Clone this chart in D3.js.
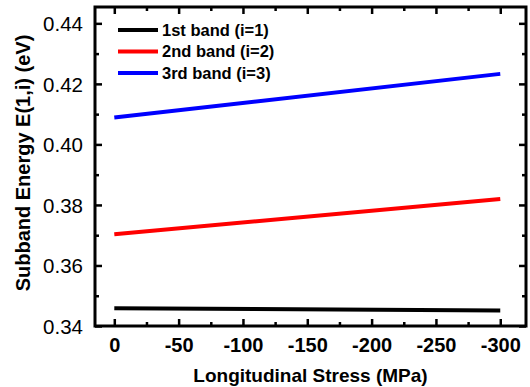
<html>
<head>
<meta charset="utf-8">
<script src="https://d3js.org/d3.v7.min.js"></script>
<style>
  body { margin: 0; background: #fff; }
  text { font-family: Arial, "Liberation Sans", sans-serif; }
</style>
</head>
<body>
<svg id="chart" width="530" height="387"></svg>
<script>
// Data
const stress = [0, -300];
const band1 = [0.3459, 0.3451];
const band2 = [0.3703, 0.3820];
const band3 = [0.4089, 0.4233];
const seriesNames = ["1st band (i=1)", "2nd band (i=2)", "3rd band (i=3)"];
const seriesColors = ["#000000", "#ff0000", "#0000ff"];
const xTicks = [0, -50, -100, -150, -200, -250, -300];
const xMinor = [-25, -75, -125, -175, -225, -275];
const yTicks = [0.34, 0.36, 0.38, 0.40, 0.42, 0.44];
const yMinor = [0.35, 0.37, 0.39, 0.41, 0.43];

// Plot frame
const pLeft = 95, pRight = 526, pTop = 7, pBottom = 326;

const svg = d3.select("#chart");

const x = d3.scaleLinear().domain([15, -320]).range([pLeft, pRight]);
const y = d3.scaleLinear().domain([0.34, 0.4454]).range([pBottom, pTop]);

// Bottom axis (ticks inward)
const bx = svg.append("g").attr("transform", "translate(0," + pBottom + ")");
bx.call(d3.axisBottom(x).tickValues(xTicks).tickSize(-7).tickPadding(12).tickFormat(d => String(d)));
bx.append("g").call(d3.axisBottom(x).tickValues(xMinor).tickSize(-4).tickFormat(""));

// Top axis
const tx = svg.append("g").attr("transform", "translate(0," + pTop + ")");
tx.call(d3.axisTop(x).tickValues(xTicks).tickSize(-7).tickFormat(""));
tx.append("g").call(d3.axisTop(x).tickValues(xMinor).tickSize(-4).tickFormat(""));

// Left axis
const ly = svg.append("g").attr("transform", "translate(" + pLeft + ",0)");
ly.call(d3.axisLeft(y).tickValues(yTicks).tickSize(-7).tickPadding(12).tickFormat(d => d.toFixed(2)));
ly.append("g").call(d3.axisLeft(y).tickValues(yMinor).tickSize(-4).tickFormat(""));

// Right axis
const ry = svg.append("g").attr("transform", "translate(" + pRight + ",0)");
ry.call(d3.axisRight(y).tickValues(yTicks).tickSize(-7).tickFormat(""));
ry.append("g").call(d3.axisRight(y).tickValues(yMinor).tickSize(-4).tickFormat(""));

svg.selectAll(".domain").remove();
svg.selectAll(".tick line").attr("stroke", "#000").attr("stroke-width", 2.5);

bx.selectAll(".tick text")
  .attr("font-size", 20).attr("font-weight", "bold").attr("fill", "#000")
  .attr("font-family", "Arial, 'Liberation Sans', sans-serif");
ly.selectAll(".tick text")
  .attr("font-size", 20.5).attr("fill", "#000").attr("dy", "0.36em")
  .attr("font-family", "Arial, 'Liberation Sans', sans-serif");

// Frame
svg.append("rect")
  .attr("x", pLeft).attr("y", pTop)
  .attr("width", pRight - pLeft).attr("height", pBottom - pTop)
  .attr("fill", "none").attr("stroke", "#000").attr("stroke-width", 3);

// Lines
const line = d3.line().x((d, i) => x(stress[i])).y(d => y(d));
[band1, band2, band3].forEach((s, i) => {
  svg.append("path")
    .datum(s)
    .attr("d", line)
    .attr("fill", "none")
    .attr("stroke", seriesColors[i])
    .attr("stroke-width", 4);
});

// Legend
const lg = svg.append("g");
seriesNames.forEach((name, i) => {
  const yy = 30 + i * 21.5;
  lg.append("line")
    .attr("x1", 118).attr("x2", 158).attr("y1", yy).attr("y2", yy)
    .attr("stroke", seriesColors[i]).attr("stroke-width", 4);
  lg.append("text")
    .attr("x", 162).attr("y", yy).attr("dy", "0.36em")
    .attr("font-size", 16.5).attr("font-weight", "bold")
    .text(name);
});

// Axis titles
svg.append("text")
  .attr("x", (pLeft + pRight) / 2).attr("y", 382)
  .attr("text-anchor", "middle")
  .attr("font-size", 19).attr("font-weight", "bold")
  .text("Longitudinal Stress (MPa)");

svg.append("text")
  .attr("transform", "translate(30,163) rotate(-90)")
  .attr("text-anchor", "middle")
  .attr("font-size", 20).attr("font-weight", "bold")
  .text("Subband Energy E(1,i) (eV)");
</script>
</body>
</html>
